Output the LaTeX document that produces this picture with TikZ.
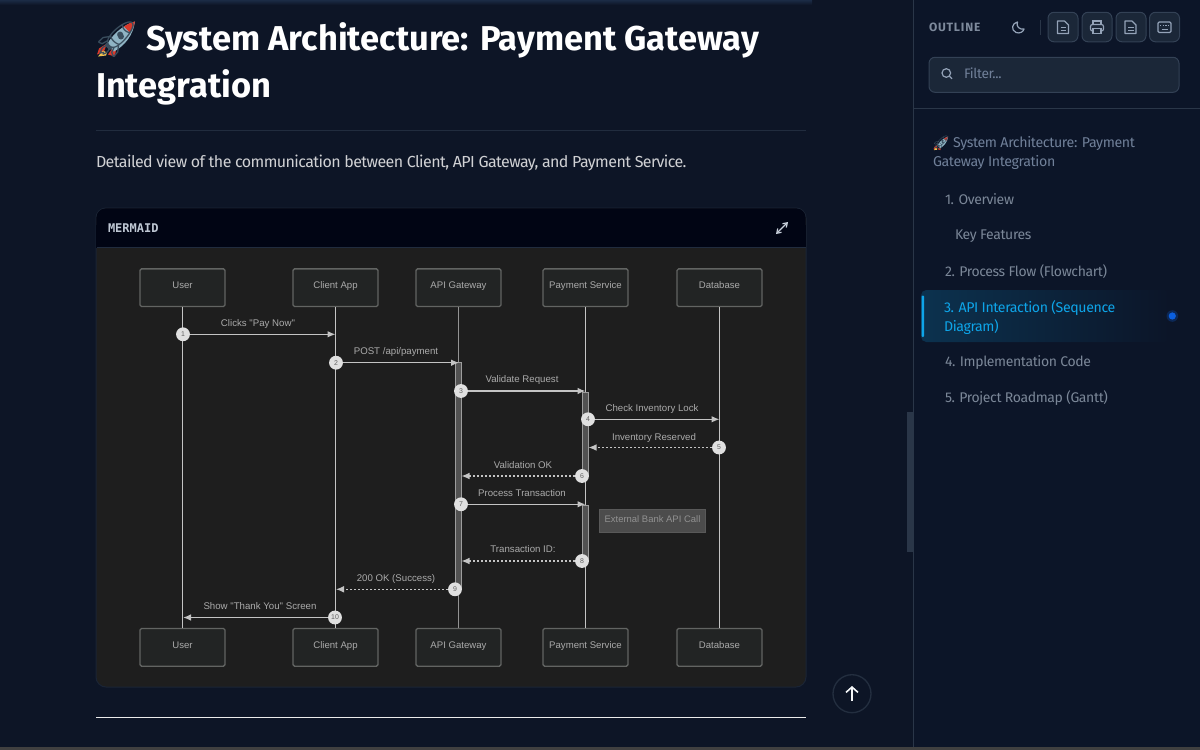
\documentclass[tikz,border=0pt]{standalone}
\usepackage{fontspec}
\usetikzlibrary{arrows.meta,shadings}
\setmainfont{Fira Sans}
\newfontfamily\bodyf[LetterSpace=-3.6]{Fira Sans}
\newfontfamily\sidef[LetterSpace=-2.6]{Fira Sans}
\newfontfamily\dia{Liberation Sans}
\newfontfamily\monof{DejaVu Sans Mono}
\newfontfamily\emojif{Noto Emoji}
\newcommand\fsz[1]{\fontsize{#1}{#1}\selectfont}
\definecolor{pagebg}{HTML}{0D1526}
\definecolor{sidebg}{HTML}{0C1528}
\definecolor{hair}{HTML}{2A3648}
\definecolor{headbg}{HTML}{010514}
\definecolor{cardbg}{HTML}{1E1E1E}
\definecolor{actfill}{HTML}{222424}
\definecolor{actline}{HTML}{626462}
\definecolor{life}{HTML}{C4C4C4}
\definecolor{lbl}{HTML}{ABABAB}
\definecolor{muted}{HTML}{7B8798}
\definecolor{mutedb}{HTML}{708099}
\definecolor{btnbg}{HTML}{1B2738}
\definecolor{btnln}{HTML}{334155}
\definecolor{cyanx}{HTML}{0EA5E9}
\definecolor{icon}{HTML}{94A3B8}
\definecolor{topglow}{HTML}{1B2B45}
\definecolor{rbody}{HTML}{8FB4C4}
\definecolor{rred}{HTML}{D8392B}
\definecolor{rflame}{HTML}{F2C14E}
\definecolor{rline}{HTML}{3A4E5E}
\definecolor{dotblue}{HTML}{0B5FE0}
\tikzset{
 x=0.75pt,y=-0.75pt,
 txt/.style={anchor=base west,inner sep=0,outer sep=0},
 actor/.style={draw=actline,line width=1pt,fill=actfill,rounded corners=1.2pt,minimum width=63.75pt,minimum height=28.3pt,inner sep=0,text=lbl,font=\dia\fsz{7.2},text height=5.5pt,text depth=4.1pt},
 lifeline/.style={draw=life,line width=0.9pt},
 lifelinedim/.style={draw=life!75!black,line width=1pt},
 activation/.style={draw=life!80!black,line width=.7pt,fill=black!68,minimum width=4.5pt,inner sep=0},
 numc/.style={circle,fill=black!12,minimum size=10.4pt,inner sep=0,text=black!62,font=\dia\fsz{5.2}},
 msgline/.style={draw=life,line width=1.05pt,-{Latex[length=6pt,width=5pt]}},
 retline/.style={draw=life,line width=.85pt,dash pattern=on 1.5pt off 1.5pt,-{Latex[length=6pt,width=5pt]}},
 msglbl/.style={inner sep=0,text=lbl,font=\dia\fsz{7.25},text height=5.2pt,text depth=0pt},
 notebox/.style={draw=black!65,fill=black!70,line width=.7pt,minimum width=79.5pt,minimum height=17.3pt,inner sep=0,text height=5.2pt,text depth=3pt},
 btn/.style={draw=btnln,line width=.75pt,fill=btnbg,rounded corners=4.5pt},
 ico/.style={draw=icon,line width=.9pt},
}
% coloured body of the rocket, underlaid below the emoji glyph
\newcommand\rocketfill[3]{%
\begin{scope}[shift={(#1,#2)},scale=#3]
 \fill[rred] (10,-14) -- (2,-9) -- (0,-3) -- (7,-6) -- cycle;
 \fill[rred] (11,-3) -- (18,-1) -- (19,-8) -- (23,-14) -- (16,-10) -- cycle;
 \fill[rflame] (6,-7) -- (1,-1) -- (9,-2) -- (10,-5) -- cycle;
 \fill[rbody] (38,-36) .. controls (27,-33) and (16,-24) .. (10,-13) -- (17,-6) .. controls (28,-12) and (36,-22) .. (38,-36) -- cycle;
 \fill[rred] (38,-36) .. controls (33,-35) and (30,-33) .. (27,-31) -- (33,-25) .. controls (35,-28) and (37,-31) .. (38,-36) -- cycle;
 \fill[rline] (24,-21) circle[radius=3];
\end{scope}}
\begin{document}
\begin{tikzpicture}
\useasboundingbox (0,0) rectangle (1200,750);
\fill[pagebg] (0,0) rectangle (1200,750);
\shade[top color=topglow,bottom color=pagebg] (0,0) rectangle (812,5);
\fill[sidebg] (913,0) rectangle (1200,750);
\draw[hair,line width=.75pt] (913,0) -- (913,747);
\fill[hair] (907,412) rectangle (913,552);
\fill[black!75!white] (0,747) rectangle (1200,750);
% main text
\rocketfill{97}{57.5}{1}
\node[txt,text=rline,font=\emojif\fsz{27}] (rocketa) at (93,51) {🚀};
\node[txt,text=white,font=\bfseries\fsz{25.85}] (title1) at (146,50.5) {System Architecture: Payment Gateway};
\node[txt,text=white,font=\bfseries\fsz{25.85}] (title2) at (96,97) {Integration};
\draw[hair!70!pagebg,line width=.75pt] (96,130) -- (806,130);
\node[txt,text=black!5!white!85!pagebg,font=\bodyf\fsz{12}] (intro) at (96,167) {Detailed view of the communication between Client, API Gateway, and Payment Service.};
% card
\draw[hair!45!pagebg,line width=.75pt,fill=cardbg,rounded corners=7.5pt] (96,208) rectangle (806,687);
\fill[headbg,rounded corners=7pt] (96.4,208.4) rectangle (805.6,240);
\fill[headbg] (96.4,225) rectangle (805.6,247.5);
\draw[hair!70!pagebg,line width=.5pt] (96.5,247.8) -- (805.5,247.8);
\node[txt,text=icon!60!white,font=\monof\bfseries\fsz{9}] (mermaid) at (108,232) {MERMAID};
\draw[icon!50!white,line width=.9pt,{Straight Barb[length=3pt,width=4pt]}-{Straight Barb[length=3pt,width=4pt]}] (776,234) -- (788,222);
% actors
\node[actor] (ut) at (182.5,287.7) {User};
\node[actor] (ct) at (335.5,287.7) {Client App};
\node[actor] (at) at (458.5,287.7) {API Gateway};
\node[actor] (pt) at (585.5,287.7) {Payment Service};
\node[actor] (dt) at (719.5,287.7) {Database};
\node[actor] (ub) at (182.5,647.3) {User};
\node[actor] (cb) at (335.5,647.3) {Client App};
\node[actor] (ab) at (458.5,647.3) {API Gateway};
\node[actor] (pb) at (585.5,647.3) {Payment Service};
\node[actor] (db) at (719.5,647.3) {Database};
\draw[lifeline] (ut) -- (ub);
\draw[lifeline] (ct) -- (cb);
\draw[lifelinedim] (at) -- (ab);
\draw[lifeline] (pt) -- (pb);
\draw[lifeline] (dt) -- (db);
% activations
\node[activation,minimum height=170.6pt] (a1) at (458.5,476.2) {};
\node[activation,minimum height=63pt] (a2) at (585.2,434) {};
\node[activation,minimum height=42pt] (a3) at (585.2,533) {};
% note
\node[notebox,text=lbl!85!black,font=\dia\fsz{7.1}] (note) at (652.5,521) {External Bank API Call};
% endpoints
\coordinate (e1) at (335.5,334.3);
\coordinate (e2) at (459,362.7);
\coordinate (e3) at (585.5,391);
\coordinate (e4) at (719.5,419.3);
\coordinate (e5) at (588.5,447.5);
\coordinate (e6) at (461.5,476);
\coordinate (e7) at (585.5,504.3);
\coordinate (e8) at (461.5,561);
\coordinate (e9) at (336,589.3);
\coordinate (e10) at (183,617.5);
% numbers
\node[numc] (n1) at (183,334.3) {1};
\node[numc] (n2) at (336,362.7) {2};
\node[numc] (n3) at (461,391) {3};
\node[numc] (n4) at (588,419.3) {4};
\node[numc] (n5) at (719,447.5) {5};
\node[numc] (n6) at (582,476) {6};
\node[numc] (n7) at (461,504.3) {7};
\node[numc] (n8) at (582,561) {8};
\node[numc] (n9) at (455,589.3) {9};
\node[numc] (n10) at (335,617.5) {10};
\draw[msgline] (n1) -- (e1);
\draw[msgline] (n2) -- (e2);
\draw[msgline] (n3) -- (e3);
\draw[msgline] (n4) -- (e4);
\draw[retline] (n5) -- (e5);
\draw[retline] (n6) -- (e6);
\draw[msgline] (n7) -- (e7);
\draw[retline] (n8) -- (e8);
\draw[retline] (n9) -- (e9);
\draw[msgline] (n10) -- (e10);
% labels
\node[msglbl] (l1) at (258,323) {Clicks "Pay Now"};
\node[msglbl] (l2) at (396,351.3) {POST /api/payment};
\node[msglbl] (l3) at (522,379.3) {Validate Request};
\node[msglbl] (l4) at (652,407.7) {Check Inventory Lock};
\node[msglbl] (l5) at (654,436.7) {Inventory Reserved};
\node[msglbl] (l6) at (523,464.7) {Validation OK};
\node[msglbl] (l7) at (522,492.7) {Process Transaction};
\node[msglbl] (l8) at (523,549) {Transaction ID:};
\node[msglbl] (l9) at (396,577.7) {200 OK (Success)};
\node[msglbl] (l10) at (260,606) {Show "Thank You" Screen};
% rule and top button
\draw[black!8,line width=.9pt] (96,717.3) -- (806,717.3);
\node[circle,draw=hair!75!pagebg,line width=1pt,minimum size=28.5pt,inner sep=0] (topbtn) at (852,693.7) {};
\draw[white!90!icon,line width=1.2pt,-{Straight Barb[length=4pt,width=9pt]}] (852,701) -- (852,686);
% sidebar top
\node[txt,text=icon!85!black,font=\bfseries\fsz{9}] (outl) at (929,31) {O\kern.6pt U\kern.6pt T\kern.6pt L\kern.6pt I\kern.6pt N\kern.6pt E};
\draw[icon,line width=.9pt,line join=round] (1017.5,22) .. controls (1012,23) and (1010.5,30) .. (1016,32.5) .. controls (1020,34) and (1023.5,31.5) .. (1024,29) .. controls (1020,30) and (1015.5,26.5) .. (1017.5,22) -- cycle;
\draw[hair,line width=.6pt] (1040,20) -- (1040,35);
\foreach \xa in {1048,1082,1116,1149.5}{
 \draw[btn] (\xa,12.3) rectangle ++(30,29.5);
}
% doc icons
\foreach \xc in {1063,1130.5}{
 \draw[ico,line join=round] (\xc-5.5,21) -- (\xc+1.5,21) -- (\xc+5.5,25) -- (\xc+5.5,33.5) -- (\xc-5.5,33.5) -- cycle;
 \draw[ico,line width=.7pt] (\xc-2.5,27.5) -- (\xc+3,27.5) (\xc-2.5,30.5) -- (\xc+3,30.5);
}
% printer
\draw[ico] (1093,24.5) -- (1093,21) -- (1101,21) -- (1101,24.5);
\draw[ico,rounded corners=1.5pt] (1093,31) -- (1090.5,31) -- (1090.5,24.5) -- (1103.5,24.5) -- (1103.5,31) -- (1101,31);
\draw[ico] (1093,28.5) rectangle (1101,33.5);
% keyboard
\draw[ico,rounded corners=1pt] (1158,22) rectangle (1171,32.5);
\draw[ico,line width=.6pt,dash pattern=on 1pt off 1pt] (1160,25) -- (1169,25);
\draw[ico,line width=.6pt] (1161.5,29.5) -- (1167.5,29.5);
% filter
\draw[btn] (929,57.3) rectangle (1179,92.3);
\draw[icon,line width=.9pt] (946.3,73) circle[radius=4.3];
\draw[icon,line width=.9pt] (949.5,76.2) -- (952,78.8);
\node[txt,text=mutedb,font=\sidef\fsz{10.3}] (filter) at (964,78) {Filter...};
\draw[hair,line width=.75pt] (913,108.3) -- (1200,108.3);
% outline
\rocketfill{933.5}{150.5}{0.385}
\node[txt,text=rline,font=\emojif\fsz{10.4}] (rocketb) at (932,147.5) {🚀};
\node[txt,text=mutedb,font=\sidef\fsz{10.65}] (t0a) at (953,147) {System Architecture: Payment};
\node[txt,text=mutedb,font=\sidef\fsz{10.65}] (t0b) at (933,166) {Gateway Integration};
\node[txt,text=muted,font=\sidef\fsz{10.5}] (t1) at (945,204) {1. Overview};
\node[txt,text=muted,font=\sidef\fsz{10.5}] (t1a) at (955,239) {Key Features};
\node[txt,text=muted,font=\sidef\fsz{10.5}] (t2) at (945,276) {2. Process Flow (Flowchart)};
\shade[left color=cyanx!20!sidebg,right color=sidebg,rounded corners=4pt] (921,290) rectangle (1170,342);
\fill[cyanx,rounded corners=.8pt] (921.5,295.5) rectangle (924.2,337);
\node[txt,text=cyanx,font=\sidef\fsz{10.6}] (t3a) at (944,312) {3. API Interaction (Sequence};
\node[txt,text=cyanx,font=\sidef\fsz{10.6}] (t3b) at (944,331) {Diagram)};
\fill[dotblue!25!sidebg] (1172.3,316) circle[radius=5.8];
\fill[dotblue] (1172.3,316) circle[radius=3.6];
\node[txt,text=muted,font=\sidef\fsz{10.5}] (t4) at (945,366) {4. Implementation Code};
\node[txt,text=muted,font=\sidef\fsz{10.5}] (t5) at (945,402) {5. Project Roadmap (Gantt)};
\end{tikzpicture}
\end{document}
